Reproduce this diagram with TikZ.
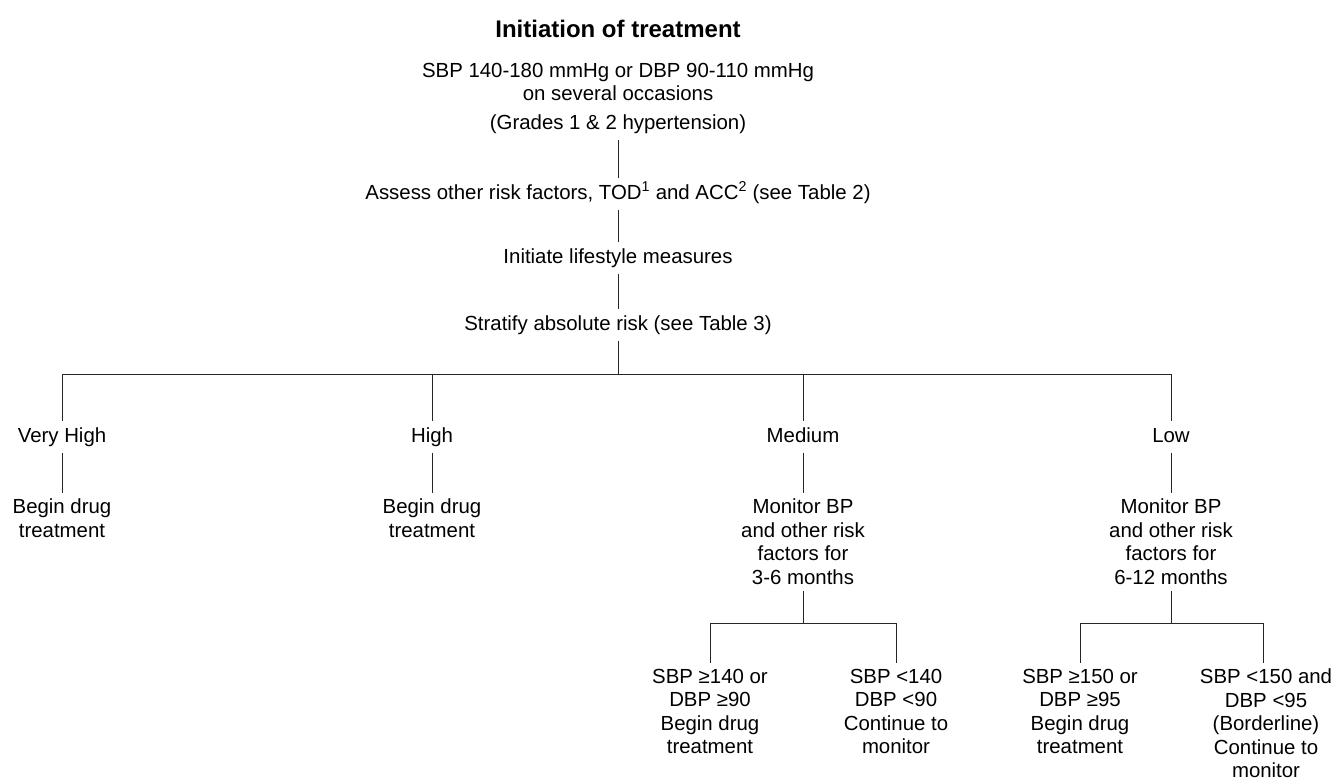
\documentclass[tikz,border=0pt]{standalone}
\usepackage{fontspec}
\setmainfont{Liberation Sans}
\begin{document}
\begin{tikzpicture}[x=1bp, y=-1bp,
  every node/.style={font=\fontsize{20.4bp}{23.5bp}\selectfont, align=center, inner xsep=2bp, inner ysep=6bp},
  one/.style={text height=15bp, text depth=4.5bp},
  ttl/.style={font=\fontsize{24bp}{28bp}\selectfont\bfseries, inner sep=0pt},
  conn/.style={line width=1bp, black!85}]
\useasboundingbox (0,0) rectangle (1340,781);
% main chain
\node[ttl] (title) at (618,29) {Initiation of treatment};
\node[anchor=north] (bp) at (618,57) {SBP 140-180 mmHg or DBP 90-110 mmHg\\ on several occasions\\[5bp] (Grades 1 \& 2 hypertension)};
\node[one] (assess) at (618,194) {Assess other risk factors, TOD\textsuperscript{1} and ACC\textsuperscript{2} (see Table 2)};
\node[one] (life) at (618,258) {Initiate lifestyle measures};
\node[one] (strat) at (618,325) {Stratify absolute risk (see Table 3)};
\coordinate (bar) at (618,374);
\coordinate (b1) at (62,374);
\coordinate (b2) at (432,374);
\coordinate (b3) at (803,374);
\coordinate (b4) at (1171,374);
% risk levels
\node[one] (vh) at (62,437) {Very High};
\node[one] (hi) at (432,437) {High};
\node[one] (med) at (803,437) {Medium};
\node[one] (low) at (1171,437) {Low};
\node[anchor=north] (vhd) at (62,493) {Begin drug\\treatment};
\node[anchor=north] (hid) at (432,493) {Begin drug\\treatment};
\node[anchor=north] (medm) at (803,493) {Monitor BP\\and other risk\\factors for\\3-6 months};
\node[anchor=north] (lowm) at (1171,493) {Monitor BP\\and other risk\\factors for\\6-12 months};
% sub branches
\coordinate (mj) at (803,623);
\coordinate (m1) at (710,623);
\coordinate (m2) at (896,623);
\coordinate (lj) at (1171,623);
\coordinate (l1) at (1080,623);
\coordinate (l2) at (1263,623);
\node[anchor=north] (m1t) at (710,663) {SBP ≥140 or\\DBP ≥90\\Begin drug\\treatment};
\node[anchor=north] (m2t) at (896,663) {SBP <140\\DBP <90\\Continue to\\monitor};
\node[anchor=north] (l1t) at (1080,663) {SBP ≥150 or\\DBP ≥95\\Begin drug\\treatment};
\node[anchor=north] (l2t) at (1266,663) {SBP <150 and\\DBP <95\\(Borderline)\\Continue to\\monitor};
% connectors
\draw[conn] (bp) -- (assess);
\draw[conn] (assess) -- (life);
\draw[conn] (life) -- (strat);
\draw[conn] (strat) -- (bar);
\draw[conn] (b1) -- (b4);
\draw[conn] (b1) -- (vh);
\draw[conn] (b2) -- (hi);
\draw[conn] (b3) -- (med);
\draw[conn] (b4) -- (low);
\draw[conn] (vh) -- (vhd);
\draw[conn] (hi) -- (hid);
\draw[conn] (med) -- (medm);
\draw[conn] (low) -- (lowm);
\draw[conn] (medm) -- (mj);
\draw[conn] (lowm) -- (lj);
\draw[conn] (m1) -- (m2);
\draw[conn] (l1) -- (l2);
\draw[conn] (m1) -- (m1t);
\draw[conn] (m2) -- (m2t);
\draw[conn] (l1) -- (l1t);
\draw[conn] (l2) -- (l2 |- l2t.north);
\end{tikzpicture}
\end{document}
